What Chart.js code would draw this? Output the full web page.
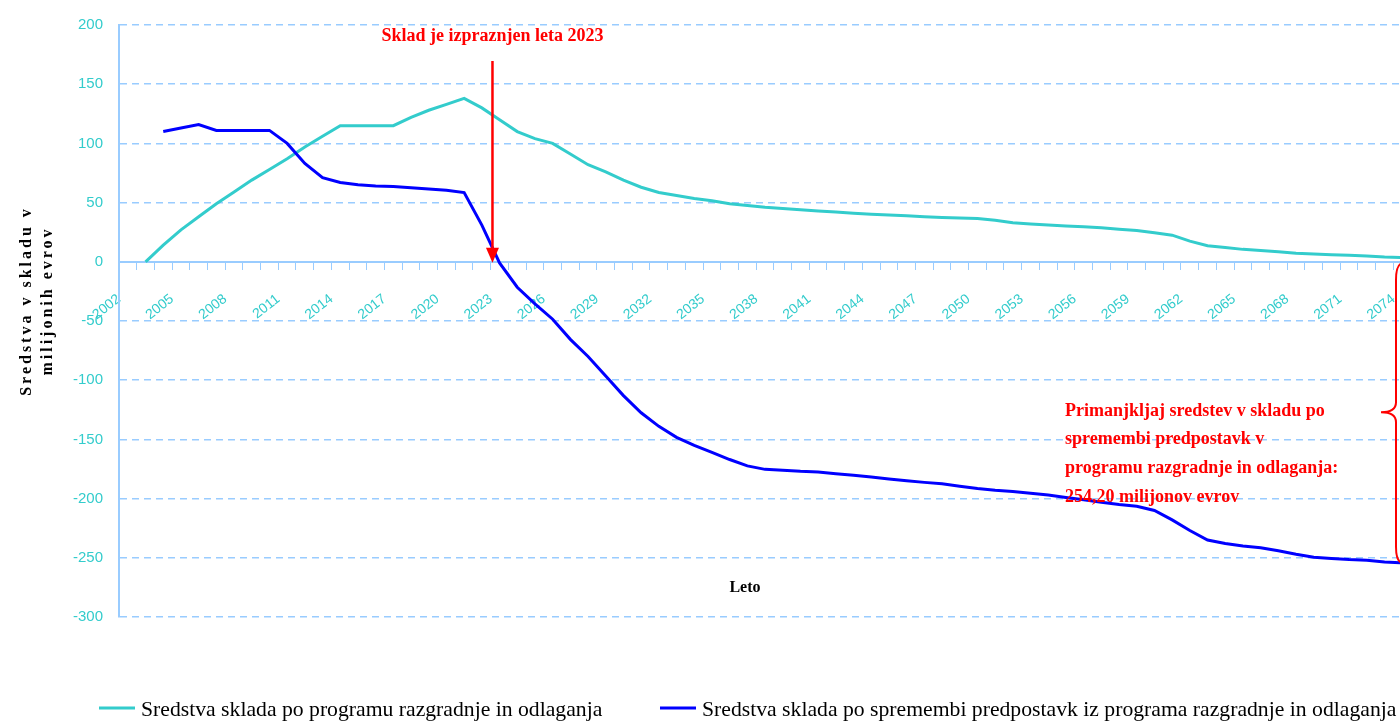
<!DOCTYPE html>
<html>
<head>
<meta charset="utf-8">
<script src="https://cdn.jsdelivr.net/npm/chart.js@4.4.1/dist/chart.umd.min.js"></script>
<style>
  html, body { margin: 0; padding: 0; background: #ffffff; overflow: hidden; }
  canvas { display: block; }
</style>
</head>
<body>
<canvas id="c" width="1400" height="722"></canvas>
<script>
// ---- data -------------------------------------------------------------
const years = [2002,2003,2004,2005,2006,2007,2008,2009,2010,2011,2012,2013,2014,2015,2016,2017,2018,2019,2020,2021,2022,2023,2024,2025,2026,2027,2028,2029,2030,2031,2032,2033,2034,2035,2036,2037,2038,2039,2040,2041,2042,2043,2044,2045,2046,2047,2048,2049,2050,2051,2052,2053,2054,2055,2056,2057,2058,2059,2060,2061,2062,2063,2064,2065,2066,2067,2068,2069,2070,2071,2072,2073,2074];

// Sredstva sklada po programu razgradnje in odlaganja
const programFunds = [null,0,14,27,38,49,59,69,78,87,97,106,115,115,115,115,122,128,133,138,130,120,110,104,100,91,82,76,69,63,58.5,56,53.5,51.5,49,47.5,46,45,44,43,42,41,40.2,39.5,38.8,38,37.5,37,36.5,35,33,32,31,30.3,29.5,28.7,27.5,26.5,24.5,22.5,17.5,13.6,12,10.5,9.5,8.5,7.2,6.5,6,5.6,5,4,3.5];

// Sredstva sklada po spremembi predpostavk iz programa razgradnje in odlaganja
const changedFunds = [null,null,110,113,116,111,111,111,111,100,83,71,67,65,64,63.5,62.5,61.5,60.5,58.5,31,-1,-21.5,-35.5,-48.5,-65.5,-80,-96.5,-113,-127.5,-139,-148.3,-155,-161,-167,-172.4,-175.3,-176,-177,-177.5,-179,-180.3,-181.8,-183.5,-185,-186.3,-187.5,-189.5,-191.5,-193,-194,-195.5,-197,-199,-201,-203,-205,-206.5,-210,-218,-227,-235,-238,-240,-241.5,-244,-247,-249.5,-250.5,-251.5,-252,-253.5,-254.2];

const seriesNames = [
  'Sredstva sklada po programu razgradnje in odlaganja',
  'Sredstva sklada po spremembi predpostavk iz programa razgradnje in odlaganja'
];

const xTickLabels = ['2002','2005','2008','2011','2014','2017','2020','2023','2026','2029','2032','2035','2038','2041','2044','2047','2050','2053','2056','2059','2062','2065','2068','2071','2074'];
const yTickValues = [200,150,100,50,0,-50,-100,-150,-200,-250,-300];

const yTitleLines = ['Sredstva v skladu v', 'milijonih evrov'];
const xTitle = 'Leto';
const arrowText = 'Sklad je izpraznjen leta 2023';
const emptiedYear = 2022.6;
const deficitValue = -254.2;
const deficitLines = [
  'Primanjkljaj sredstev v skladu po',
  'spremembi predpostavk v',
  'programu razgradnje in odlaganja:',
  '254,20 milijonov evrov'
];

// ---- styling -----------------------------------------------------------
const TURQ = '#33CCCC';
const BLUE = '#0000FF';
const RED = '#FF0000';
const GRID = '#99CCFF';

const annotations = {
  id: 'annotations',
  afterDraw(chart) {
    const ctx = chart.ctx;
    const x = chart.scales.x, y = chart.scales.y;
    ctx.save();

    // y axis title (two rotated lines)
    ctx.fillStyle = '#000000';
    ctx.font = 'bold 16px "Liberation Serif"';
    ctx.textAlign = 'center';
    ctx.textBaseline = 'middle';
    try { ctx.letterSpacing = '3px'; } catch (e) {}
    [27, 48].forEach((cx, i) => {
      ctx.save();
      ctx.translate(cx, 301);
      ctx.rotate(-Math.PI / 2);
      ctx.fillText(yTitleLines[i], 0, 0);
      ctx.restore();
    });
    try { ctx.letterSpacing = '0px'; } catch (e) {}

    // x axis title
    ctx.font = 'bold 16px "Liberation Serif"';
    ctx.fillText(xTitle, 745, 588);

    // arrow
    const ax = x.getPixelForValue(emptiedYear);
    const y0 = y.getPixelForValue(0);
    ctx.strokeStyle = RED;
    ctx.fillStyle = RED;
    ctx.lineWidth = 2.5;
    ctx.beginPath();
    ctx.moveTo(ax, 61);
    ctx.lineTo(ax, y0 - 12);
    ctx.stroke();
    ctx.beginPath();
    ctx.moveTo(ax - 6.5, y0 - 14);
    ctx.lineTo(ax + 6.5, y0 - 14);
    ctx.lineTo(ax, y0 + 1);
    ctx.closePath();
    ctx.fill();

    ctx.font = 'bold 18px "Liberation Serif"';
    ctx.textAlign = 'center';
    ctx.fillText(arrowText, ax, 36);

    // brace
    const yTop = y.getPixelForValue(0);
    const yBot = y.getPixelForValue(deficitValue);
    const yMid = (yTop + yBot) / 2;
    const bx = 1396;
    ctx.lineWidth = 2;
    ctx.beginPath();
    ctx.moveTo(1403, yTop + 1);
    ctx.quadraticCurveTo(bx, yTop + 2, bx, yTop + 18);
    ctx.lineTo(bx, yMid - 10);
    ctx.quadraticCurveTo(bx, yMid, bx - 15, yMid);
    ctx.quadraticCurveTo(bx, yMid, bx, yMid + 10);
    ctx.lineTo(bx, yBot - 16);
    ctx.quadraticCurveTo(bx, yBot, 1403, yBot);
    ctx.stroke();

    // deficit text
    ctx.font = 'bold 18px "Liberation Serif"';
    ctx.textAlign = 'left';
    ctx.textBaseline = 'middle';
    deficitLines.forEach((t, i) => ctx.fillText(t, 1065, 411 + i * 28.7));

    // legend
    const starts = [99, 660];
    ctx.font = '21.7px "Liberation Serif"';
    ctx.textBaseline = 'alphabetic';
    chart.data.datasets.forEach((ds, i) => {
      ctx.strokeStyle = ds.borderColor;
      ctx.lineWidth = 3;
      ctx.beginPath();
      ctx.moveTo(starts[i], 708);
      ctx.lineTo(starts[i] + 36, 708);
      ctx.stroke();
      ctx.fillStyle = '#000000';
      ctx.fillText(ds.label, starts[i] + 42, 716);
    });
    ctx.restore();
  }
};

new Chart(document.getElementById('c'), {
  type: 'line',
  data: {
    datasets: [
      { label: seriesNames[0], data: years.map((yr, i) => ({ x: yr, y: programFunds[i] })),
        borderColor: TURQ, backgroundColor: TURQ, borderWidth: 3, pointRadius: 0, tension: 0, order: 1 },
      { label: seriesNames[1], data: years.map((yr, i) => ({ x: yr, y: changedFunds[i] })),
        borderColor: BLUE, backgroundColor: BLUE, borderWidth: 3, pointRadius: 0, tension: 0, order: 0 }
    ]
  },
  options: {
    responsive: false,
    animation: false,
    devicePixelRatio: 1,
    layout: { padding: { left: 0, right: 0, top: 22, bottom: 105 } },
    plugins: { legend: { display: false }, tooltip: { enabled: false } },
    scales: {
      x: {
        type: 'linear',
        position: { y: 0 },
        min: years[0] - 0.5,
        max: years[0] - 0.5 + 1281 / 17.7,
        afterBuildTicks(scale) {
          scale.ticks = years.map(yr => ({ value: yr - 0.5 })).filter(t => t.value <= scale.max + 1e-6);
        },
        ticks: {
          autoSkip: false,
          minRotation: 38,
          maxRotation: 38,
          padding: 22,
          color: TURQ,
          font: { family: '"Liberation Sans"', size: 14 },
          callback(value) {
            const lbl = String(Math.round(value + 0.5));
            return xTickLabels.includes(lbl) ? lbl : '';
          }
        },
        grid: { drawOnChartArea: false, drawTicks: true, tickLength: 7, color: GRID, lineWidth: 1 },
        border: { display: true, color: GRID, width: 2 },
        afterFit(scale) { scale.height = 0; scale.paddingLeft = 0; scale.paddingRight = 0; }
      },
      y: {
        min: -300,
        max: 200,
        afterBuildTicks(scale) { scale.ticks = yTickValues.map(v => ({ value: v })); },
        ticks: { color: TURQ, padding: 16, font: { family: '"Liberation Sans"', size: 15 } },
        grid: { color: GRID, lineWidth: 1.5, drawTicks: false },
        border: { display: true, color: GRID, width: 2, dash: [7, 5] },
        afterFit(scale) { scale.width = 119; }
      }
    }
  },
  plugins: [annotations]
});
</script>
</body>
</html>
